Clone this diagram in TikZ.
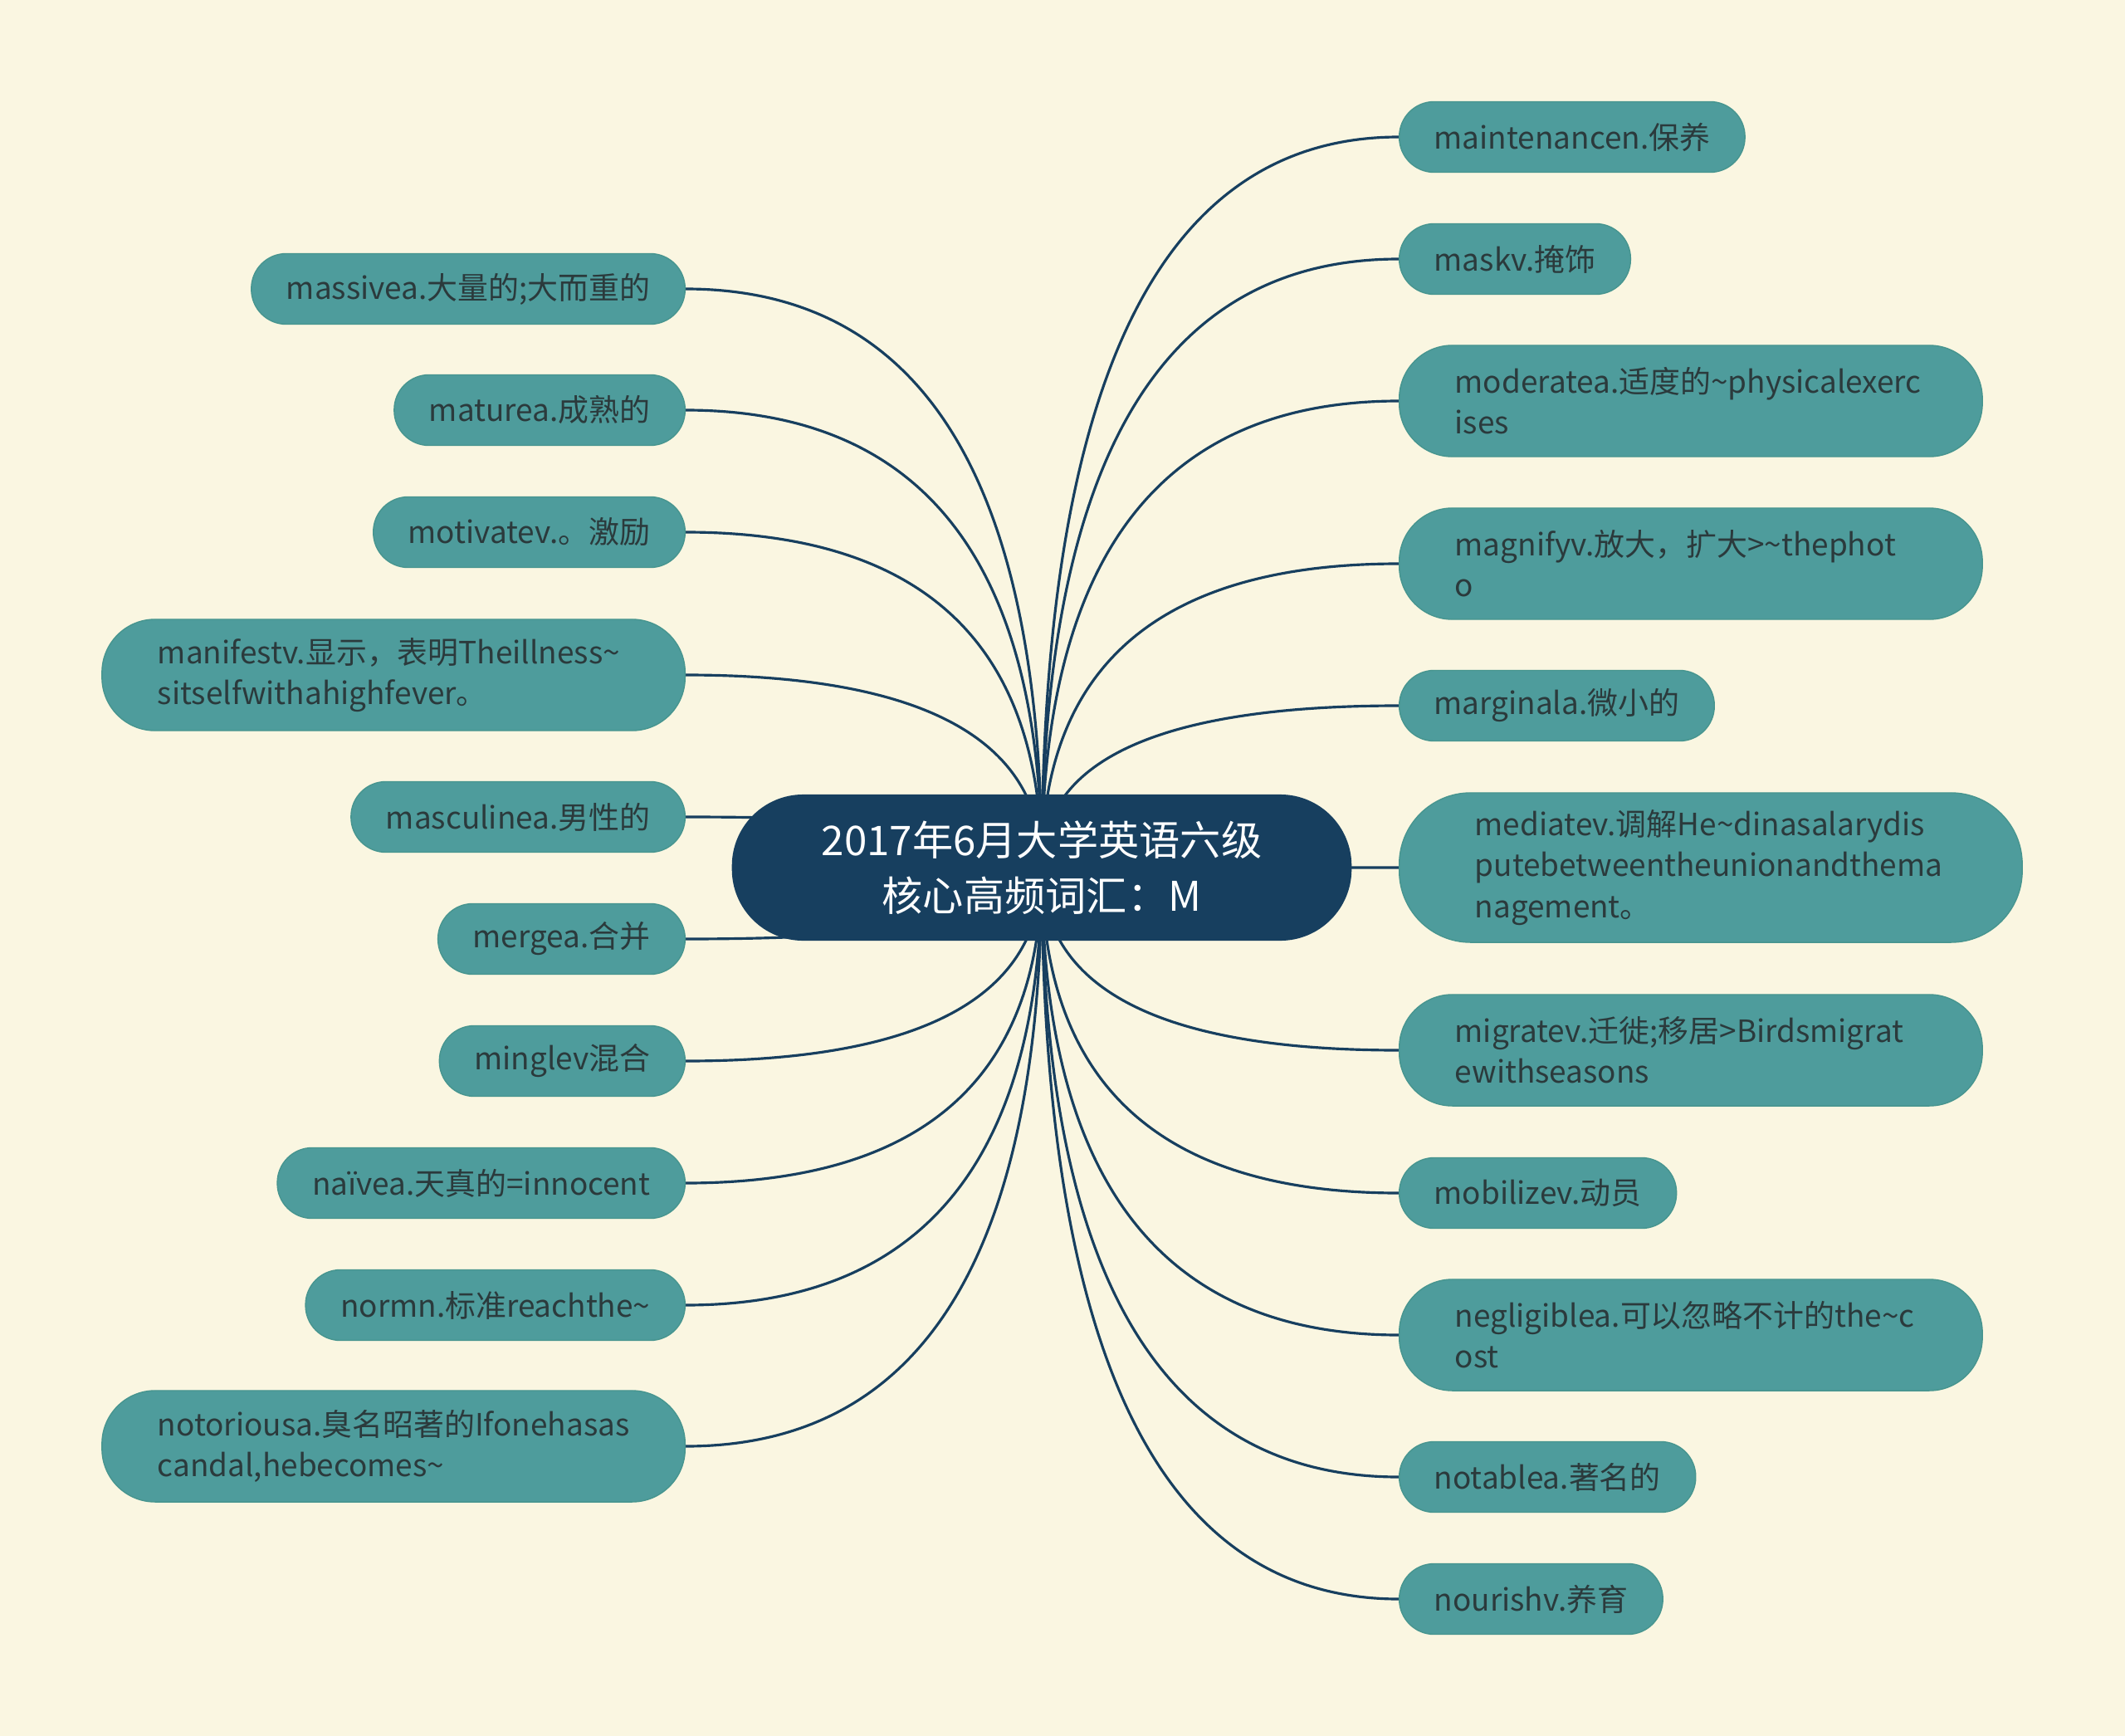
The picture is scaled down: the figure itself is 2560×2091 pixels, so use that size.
\documentclass[tikz,border=0pt]{standalone}
\usepackage{fontspec}
\setmainfont{Noto Sans CJK SC}
\usepackage{tikz}
\usetikzlibrary{positioning, calc, backgrounds}

\definecolor{paper}{HTML}{FAF6E1}
\definecolor{leaffill}{HTML}{4E9C9C}
\definecolor{leafline}{HTML}{47958F}
\definecolor{leaftext}{HTML}{2B3A3C}
\definecolor{navy}{HTML}{173F5F}

\tikzset{
  leaf/.style={rectangle, rounded corners=0.42cm, fill=leaffill, draw=leafline, line width=0.4pt,
    text=leaftext, font=\fontsize{10.5}{14}\selectfont, align=left,
    minimum height=0.85cm, inner xsep=0.42cm, inner ysep=0.2cm},
  wide/.style={rounded corners=0.64cm, inner xsep=0.67cm, minimum height=1.34cm, text width=5.68cm},
  tall/.style={rounded corners=0.86cm, inner xsep=0.91cm, minimum height=1.8cm, text width=5.68cm},
  topic/.style={rectangle, rounded corners=0.86cm, fill=navy, text=white,
    font=\fontsize{14}{19}\selectfont, align=center, minimum height=1.76cm, inner xsep=1.08cm},
  branch/.style={draw=navy, line width=0.9pt,
    to path={.. controls ($(\tikztostart)!0.667!(\tikztostart |- \tikztotarget)$)
      and ($(\tikztotarget)!0.667!(\tikztostart |- \tikztotarget)$) .. (\tikztotarget)}},
}

\begin{document}
\begin{tikzpicture}[x=0.01cm, y=-0.01cm]

    \useasboundingbox (0,0) rectangle (2560,2091);
    \begin{scope}[on background layer]
        \fill[paper] (0,0) rectangle (2560,2091);
    \end{scope}

    % ================= Central topic =================
    \node[topic] (title) at (1255,1045) {2017年6月大学英语六级\\核心高频词汇：M};

    % ================= Left branches =================
    \node[leaf, anchor=east] (massive)   at (826,348)  {massivea.大量的;大而重的};
    \node[leaf, anchor=east] (mature)    at (826,494)  {maturea.成熟的};
    \node[leaf, anchor=east] (motivate)  at (826,641)  {motivatev.。激励};
    \node[leaf, wide, anchor=east] (manifest) at (826,813) {manifestv.显示，表明Theillness\textasciitilde\\sitselfwithahighfever。};
    \node[leaf, anchor=east] (masculine) at (826,984)  {masculinea.男性的};
    \node[leaf, anchor=east] (merge)     at (826,1131) {mergea.合并};
    \node[leaf, anchor=east] (mingle)    at (826,1278) {minglev混合};
    \node[leaf, anchor=east] (naive)     at (826,1425) {naïvea.天真的=innocent};
    \node[leaf, anchor=east] (norm)      at (826,1572) {normn.标准reachthe\textasciitilde};
    \node[leaf, wide, anchor=east] (notorious) at (826,1742) {notoriousa.臭名昭著的Ifonehasas\\candal,hebecomes\textasciitilde};

    % ================= Right branches =================
    \node[leaf, anchor=west] (maintenance) at (1685,165)  {maintenancen.保养};
    \node[leaf, anchor=west] (mask)        at (1685,312)  {maskv.掩饰};
    \node[leaf, wide, anchor=west] (moderate) at (1685,483) {moderatea.适度的\textasciitilde physicalexerc\\ises};
    \node[leaf, wide, anchor=west] (magnify)  at (1685,679) {magnifyv.放大，扩大>\textasciitilde thephot\\o};
    \node[leaf, anchor=west] (marginal)    at (1685,850)  {marginala.微小的};
    \node[leaf, tall, anchor=west] (mediate)  at (1685,1045) {mediatev.调解He\textasciitilde dinasalarydis\\putebetweentheunionandthema\\nagement。};
    \node[leaf, wide, anchor=west] (migrate)  at (1685,1265) {migratev.迁徙;移居>Birdsmigrat\\ewithseasons};
    \node[leaf, anchor=west] (mobilize)    at (1685,1437) {mobilizev.动员};
    \node[leaf, wide, anchor=west] (negligible) at (1685,1608) {negligiblea.可以忽略不计的the\textasciitilde c\\ost};
    \node[leaf, anchor=west] (notable)     at (1685,1779) {notablea.著名的};
    \node[leaf, anchor=west] (nourish)     at (1685,1926) {nourishv.养育};

    % ================= Connectors (behind the nodes) =================
    \begin{scope}[on background layer]
        \draw[branch] (title.center) to (massive.east);
        \draw[branch] (title.center) to (mature.east);
        \draw[branch] (title.center) to (motivate.east);
        \draw[branch] (title.center) to (manifest.east);
        \draw[branch] (title.center) to (masculine.east);
        \draw[branch] (title.center) to (merge.east);
        \draw[branch] (title.center) to (mingle.east);
        \draw[branch] (title.center) to (naive.east);
        \draw[branch] (title.center) to (norm.east);
        \draw[branch] (title.center) to (notorious.east);

        \draw[branch] (title.center) to (maintenance.west);
        \draw[branch] (title.center) to (mask.west);
        \draw[branch] (title.center) to (moderate.west);
        \draw[branch] (title.center) to (magnify.west);
        \draw[branch] (title.center) to (marginal.west);
        \draw[branch] (title.center) to (mediate.west);
        \draw[branch] (title.center) to (migrate.west);
        \draw[branch] (title.center) to (mobilize.west);
        \draw[branch] (title.center) to (negligible.west);
        \draw[branch] (title.center) to (notable.west);
        \draw[branch] (title.center) to (nourish.west);
    \end{scope}

\end{tikzpicture}
\end{document}
